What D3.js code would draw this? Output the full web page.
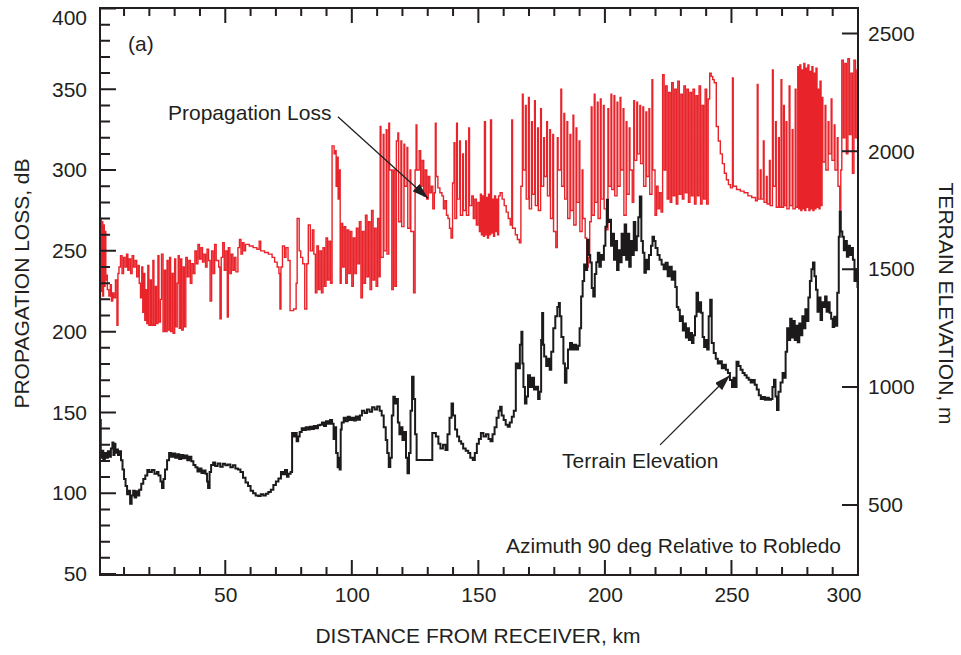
<!DOCTYPE html>
<html>
<head>
<meta charset="utf-8">
<script src="https://cdn.jsdelivr.net/npm/d3@7"></script>
<style>
	body { margin: 0; background: #fff; }
	text { font-family: "Liberation Sans", Arial, Helvetica, sans-serif; fill: #231f20; }
</style>
</head>
<body>
<div id="chart-container"></div>
<script>
// tick values
const distTicks = [50, 100, 150, 200, 250, 300];
const distMinor = [10, 20, 30, 40, 60, 70, 80, 90, 110, 120, 130, 140, 160, 170, 180, 190, 210, 220, 230, 240, 260, 270, 280, 290];
const lossTicks = [50, 100, 150, 200, 250, 300, 350, 400];
const lossMinor = [60, 70, 80, 90, 110, 120, 130, 140, 160, 170, 180, 190, 210, 220, 230, 240, 260, 270, 280, 290, 310, 320, 330, 340, 360, 370, 380, 390];
const elevTicks = [500, 1000, 1500, 2000, 2500];

// propagation loss [km, dB]
const lossData = [
	[0.5,172],[0.7,270],[1.0,225],[1.3,268],[1.6,222],[1.9,266],[2.2,228],[2.5,262],[2.8,232],[3.1,235],
	[3.4,226],[4.0,222],[4.6,229],[5.0,219],[5.5,224],[6.0,221],[6.6,232],[7.2,204],[7.6,236],
	[8.0,240],[8.6,247],[9.2,236],[9.8,246],[10.4,240],[11.0,248],[11.5,238],[12.0,245],[12.6,236],[13.2,247],[13.8,240],[14.4,244],[15.0,234],[15.6,241],
	[16.0,230],[16.5,221],[17.0,240],[17.4,212],[17.8,236],[18.2,207],[18.6,226],[19.0,205],[19.4,241],
	[19.8,204],[20.4,232],[20.8,204],[21.4,244],[21.8,204],[22.4,228],[22.8,205],[23.4,247],[23.8,206],[24.4,220],
	[24.8,248],[25.4,200],[26.0,238],[26.4,200],[27.0,244],[27.4,201],[28.0,246],[28.4,200],[29.0,236],[29.4,199],[30.0,245],[30.4,203],[31.0,230],
	[31.4,247],[31.8,202],[32.4,245],[32.8,201],[33.4,240],[33.8,203],
	[34.4,246],[35.0,234],[35.6,244],[36.2,230],[36.8,242],[37.4,236],
	[38.0,250],[38.6,242],[39.2,254],[39.8,245],[40.4,252],[41.0,243],[41.6,248],[42.2,240],[42.8,251],[43.4,244],
	[44.0,219],[44.6,250],[45.2,236],[45.8,254],[46.4,244],[47.4,240],[47.9,208],[48.4,246],
	[49.0,255],[49.6,238],[50.2,250],[50.8,209],[51.2,252],[51.8,236],[52.4,248],[53.0,238],[53.6,246],[54.2,237],
	[55.0,252],[55.6,257],[56.2,248],[56.8,255],[57.4,250],
	[58.0,254],[59.5,253],[61.0,252],[62.5,251],[63.4,256],[64.0,250],[65.5,249],[67.0,248],[68.5,246],
	[69.5,243],[70.5,240],[71.2,236],[71.6,214],[72.0,240],[72.6,253],[73.4,246],[74.0,252],[74.8,244],
	[75.6,213],[77.0,214],[78.0,230],[78.4,270],[79.2,250],[79.8,246],[80.6,242],[81.4,214],[82.2,242],
	[82.8,266],[83.6,250],[84.4,263],[85.0,248],
	[85.6,224],[86.2,253],[86.8,226],[87.4,250],[88.0,224],[88.6,252],[89.2,228],
	[89.8,258],[90.4,232],[91.0,256],[91.6,230],
	[92.2,315],[93.0,310],[93.4,312],[93.8,290],[94.2,308],[94.6,282],[95.0,300],[95.4,230],
	[95.8,267],[96.4,240],[97.0,265],[97.6,230],[98.2,263],[98.8,236],[99.4,262],[100.0,228],[100.6,258],[101.2,236],[101.8,264],
	[102.4,242],[103.0,268],[103.6,221],[104.2,262],
	[104.8,230],[105.4,272],[106.0,234],[106.6,268],[107.2,226],[107.8,275],[108.4,232],[109.0,264],[109.6,228],[110.2,270],[110.8,234],
	[111.2,327],[111.5,246],[112.4,322],[112.7,250],[113.6,325],[113.9,248],
	[114.6,329],[114.9,300],[115.8,226],[116.4,300],[117.0,228],[117.6,318],
	[118.2,323],[118.5,268],[119.4,318],[119.7,265],
	[120.6,316],[120.9,290],[121.8,314],[122.1,264],[123.0,300],[123.3,262],
	[124.4,224],[125.0,300],[125.4,328],[125.7,300],
	[126.6,312],[127.2,290],[127.8,306],[128.4,284],[129.0,300],[129.6,282],[130.2,296],[130.8,286],
	[131.4,290],[132.0,276],[132.6,286],[133.0,329],[133.3,296],
	[134.0,289],[134.8,286],[135.6,284],[136.2,276],[136.8,281],[137.4,272],[138.0,270],[138.6,264],[139.2,258],
	[139.8,292],[140.4,317],[140.7,270],[141.4,329],[141.7,282],[142.6,318],[142.9,272],[143.8,310],[144.1,275],[145.0,318],[145.3,272],[146.2,326],[146.5,278],
	[147.4,284],[148.0,270],[148.6,282],[149.2,266],[149.8,280],
	[150.4,262],[150.8,285],[151.2,260],[151.6,284],[152.0,259],[152.4,330],[152.8,260],[153.2,283],[153.6,258],[154.0,285],
	[154.4,260],[154.8,331],[155.2,261],[155.6,282],[156.0,259],[156.4,284],[156.8,262],[157.2,282],[157.6,260],[158.0,284],
	[158.6,286],[159.4,282],[160.2,278],[161.0,274],[161.8,270],[162.6,266],[163.2,331],[163.5,264],[164.6,260],[165.4,257],[166.2,255],
	[166.8,290],[167.4,347],[167.7,300],
	[168.6,340],[168.9,282],[169.8,345],[170.1,276],[171.0,330],[171.3,285],[172.2,343],[172.5,278],[173.4,326],[173.7,275],
	[174.6,338],[174.9,290],[175.8,320],[176.1,296],
	[177.0,330],[177.3,284],[178.2,325],[178.5,270],[179.4,322],[179.7,262],[180.6,252],[181.2,320],[181.5,300],
	[182.6,350],[182.9,290],
	[183.8,335],[184.1,282],[185.0,330],[185.3,270],[186.2,322],[186.5,275],[187.4,334],[187.7,266],[188.6,326],[188.9,280],[189.8,318],[190.1,262],[191.0,300],[191.3,270],
	[192.2,258],[192.8,240],[193.4,246],[194.0,268],
	[194.6,339],[194.9,272],[195.8,347],[196.1,280],[197.0,342],[197.3,270],[198.2,344],[198.5,282],[199.4,340],[199.7,276],[200.6,263],[201.2,338],[201.5,290],
	[202.4,347],[202.7,288],[203.6,346],[203.9,284],[204.8,342],[205.1,290],[206.0,345],[206.3,300],
	[207.2,338],[207.5,272],[208.4,330],[208.7,285],[209.6,326],[209.9,300],[210.8,280],
	[211.4,343],[211.7,306],[212.6,342],[212.9,310],[213.8,340],[214.1,304],
	[215.0,339],[215.3,290],[216.2,336],[216.5,296],[217.4,338],[217.7,285],
	[218.6,356],[218.9,300],[219.8,272],[220.4,290],[221.0,276],[221.6,286],[222.2,274],
	[222.8,359],[223.4,300],
	[224.0,352],[224.6,282],[225.2,348],[225.8,280],[226.4,354],[227.0,284],[227.6,350],[228.2,279],[228.8,355],[229.4,285],
	[230.0,347],[230.6,282],[231.2,352],[231.8,286],[232.4,350],[233.0,280],[233.6,348],[234.2,284],
	[234.8,350],[235.4,279],[236.0,346],[236.6,284],[237.2,352],[237.8,279],[238.4,340],[239.0,282],[239.6,350],[240.2,279],[240.8,344],
	[241.4,360],[242.0,358],[242.6,356],[243.2,354],
	[244.0,327],[244.8,318],[245.6,310],[246.4,304],[247.2,298],[248.0,294],[248.8,291],[249.6,289],
	[250.4,357],[250.7,290],
	[252.0,288],[253.5,287],[255.0,286],[256.5,284],[258.0,283],[259.5,281],[260.2,353],[260.5,282],
	[261.4,300],[261.7,282],[262.6,318],[262.9,280],[263.8,296],[264.1,279],[265.0,306],[265.3,278],
	[266.2,362],[266.5,290],[267.4,330],[267.7,277],[268.6,320],[268.9,277],
	[269.6,356],[269.9,277],[270.6,340],[270.9,278],[271.6,330],[271.9,276],[272.8,352],[273.1,278],[274.0,325],[274.3,276],[275.2,350],[275.5,277],
	[276.2,364],[276.6,276],[277.0,365],[277.4,275],[277.8,362],[278.2,276],[278.6,366],[279.0,275],[279.4,363],[279.8,277],
	[280.2,365],[280.6,275],[281.0,361],[281.4,276],[281.8,364],[282.2,275],[282.6,360],[283.0,276],[283.4,363],[283.8,277],
	[284.2,350],[284.6,276],[285.0,355],[285.4,278],
	[285.8,345],[286.1,305],[287.0,340],[287.3,300],[288.2,330],[288.5,310],[289.4,344],[289.7,306],[290.6,328],[290.9,300],[291.8,320],[292.1,290],
	[292.8,275],[293.2,300],
	[293.6,368],[294.2,320],[294.8,366],[295.4,310],[296.0,369],[296.6,322],[297.2,360],[297.8,298],[298.4,368],[299.0,320],[299.6,362],[300,330]
];

// terrain elevation [km, m]
const terrainData = [
	[0.5,860],[0.8,700],[1.2,730],[1.8,690],[2.4,720],[3.0,700],[3.6,728],[4.2,705],[4.8,740],[5.4,765],[5.8,712],[6.2,760],[6.6,722],[7.0,735],[7.6,712],[8.2,728],
	[8.8,690],[9.4,650],[10.0,610],[10.6,580],[11.2,545],[11.8,560],[12.4,505],
	[13.0,540],[13.6,560],[14.2,532],[14.8,558],[15.4,540],[16.0,565],
	[16.8,590],[17.6,610],[18.4,625],[19.2,648],[20.0,640],[21.0,648],[22.0,632],[23.0,640],[23.6,625],
	[24.4,600],[25.0,572],[25.6,610],[26.2,650],[27.0,690],[27.8,720],
	[28.6,705],[29.4,718],[30.2,700],[31.0,715],[31.8,695],[32.6,712],[33.4,698],[34.2,710],[35.0,690],[35.8,705],[36.6,686],
	[37.4,670],[38.2,660],[39.0,642],[39.8,655],[40.6,636],[41.4,646],[42.2,632],
	[42.8,600],[43.2,572],[43.8,640],
	[44.4,670],[45.2,680],[46.0,665],[47.0,676],[48.0,662],[49.0,675],[50.0,668],[51.0,672],[52.0,660],[53.0,668],[54.0,655],[55.0,650],
	[56.0,640],[57.0,615],[58.0,595],[59.0,580],[60.0,560],[61.0,550],[62.0,540],
	[63.0,538],[64.0,545],[65.0,540],[66.0,548],[67.0,555],
	[68.0,565],[69.0,585],[70.0,600],[71.0,612],[72.0,640],[72.8,630],[73.6,648],[74.4,620],[75.0,632],[75.8,640],
	[76.4,805],[77.0,790],[77.6,805],[78.2,770],[78.8,790],
	[79.4,810],[80.2,825],[81.0,818],[81.8,830],[82.6,820],[83.4,832],[84.2,822],[85.0,835],[85.8,825],[86.6,838],
	[87.4,840],[88.2,850],[89.0,835],[89.8,855],[90.6,845],[91.4,860],
	[92.2,845],[92.8,780],[93.2,830],[93.8,720],[94.4,660],[94.8,700],[95.2,650],[95.6,820],
	[96.0,850],[96.8,870],[97.6,855],[98.4,874],[99.2,860],[100.0,870],[100.8,858],[101.6,875],[102.4,862],
	[103.2,880],[104.0,900],[105.0,890],[106.0,905],[107.0,895],[108.0,915],[109.0,905],[110.0,918],[111.0,900],
	[111.8,880],[112.6,830],[113.4,776],[114.0,720],[114.6,661],[115.2,700],
	[115.8,880],[116.4,959],[117.0,930],[117.6,950],
	[118.2,850],[118.8,800],[119.4,830],[120.0,776],[120.6,810],
	[121.4,700],[122.0,635],[122.6,720],[123.2,900],[123.8,1044],[124.4,950],
	[125.0,800],[125.6,691],[131.8,805],[133.2,790],
	[134.2,760],[135.0,740],[136.0,755],[137.0,733],
	[137.8,800],[138.6,870],[139.4,930],[140.0,880],
	[140.8,820],[141.6,790],[142.4,770],[143.2,760],[144.0,740],[145.0,730],[146.0,720],[146.8,700],[147.8,691],
	[148.6,720],[149.4,760],[150.2,780],[151.0,805],[152.0,790],[153.0,800],[154.0,780],
	[154.8,770],[155.6,800],[156.4,830],[157.2,870],[158.0,900],[158.6,917],[159.2,880],[160.0,860],[160.8,840],[161.6,832],[162.4,850],[163.2,874],
	[164.0,900],[164.8,1100],[165.6,1080],[166.4,1180],[167.0,1235],[167.4,1100],
	[167.8,1000],[168.4,930],[169.0,960],[169.6,1050],[170.4,1000],[171.2,1040],[172.0,990],
	[172.8,1002],[173.6,950],[174.2,980],[174.8,1200],[175.2,1314],[175.6,1180],
	[176.0,1130],[176.8,1090],[177.6,1120],[178.2,1074],
	[178.8,1150],[179.6,1250],[180.4,1300],[181.2,1340],[181.8,1357],[182.2,1300],
	[182.8,1213],[183.6,1100],[184.2,1018],[184.8,1080],
	[185.4,1160],[186.2,1187],[187.0,1159],[187.8,1180],[188.6,1160],[189.4,1175],
	[190.0,1250],[190.6,1384],[191.2,1450],[191.8,1520],[192.4,1497],[193.0,1625],[193.6,1560],
	[194.2,1528],[194.8,1420],[195.4,1384],[196.0,1480],
	[196.6,1530],[197.2,1570],[197.8,1510],[198.4,1560],[199.0,1540],[199.6,1600],[200.2,1680],[200.8,1795],[201.2,1700],
	[201.8,1710],[202.4,1600],[203.0,1650],[203.6,1540],[204.2,1620],[204.8,1497],[205.4,1580],[206.0,1530],
	[206.6,1650],[207.2,1560],[207.8,1690],[208.4,1540],[209.0,1650],[209.6,1510],[210.2,1620],[210.8,1560],[211.4,1700],[212.0,1580],[212.6,1640],
	[213.2,1720],[213.8,1808],[214.4,1620],
	[215.0,1570],[215.6,1485],[216.2,1540],[216.8,1500],
	[217.4,1560],[218.2,1600],[218.8,1638],[219.4,1620],
	[220.0,1590],[220.8,1560],[221.6,1540],[222.4,1520],
	[223.2,1500],[224.0,1527],[224.8,1470],[225.6,1510],[226.4,1455],[227.2,1490],
	[227.8,1425],[228.4,1340],
	[229.0,1328],[229.6,1280],[230.2,1300],[230.8,1240],[231.4,1270],[232.0,1210],[232.6,1250],[233.2,1200],[233.8,1230],[234.4,1187],[235.0,1220],
	[235.6,1300],[236.2,1400],[236.8,1320],[237.4,1360],[238.0,1315],
	[238.6,1213],[239.2,1170],[239.8,1200],[240.4,1159],
	[241.0,1300],[241.6,1370],[242.2,1187],
	[243.0,1145],[243.8,1120],[244.6,1100],[245.4,1110],[246.2,1080],[247.0,1095],[247.8,1074],
	[248.6,1060],[249.4,1030],[250.2,1000],[250.8,1040],[251.4,1000],[252.0,1107],
	[252.8,1090],[253.6,1074],[254.4,1060],[255.2,1050],[256.0,1040],[256.8,1031],
	[257.6,1020],[258.4,1030],[259.2,1010],[260.0,990],
	[260.8,965],[261.6,950],[262.4,958],[263.2,946],[264.0,955],[264.8,946],[265.6,950],
	[266.2,1000],[266.8,1031],[267.4,960],[268.0,903],
	[268.6,980],[269.4,1020],[270.2,1060],[270.8,1040],
	[271.4,1150],[272.0,1250],[272.6,1200],[273.2,1290],[273.8,1210],[274.4,1280],[275.0,1200],[275.6,1260],[276.2,1190],
	[276.8,1270],[277.4,1220],[278.0,1300],[278.6,1250],[279.2,1330],[279.8,1280],
	[280.4,1380],[281.0,1450],[281.6,1500],[282.2,1528],[282.8,1470],
	[283.4,1413],[284.0,1320],[284.6,1380],[285.2,1285],[285.8,1360],
	[286.4,1340],[287.0,1384],[287.6,1320],[288.2,1360],[288.8,1315],
	[289.4,1290],[290.0,1255],[290.6,1298],[291.2,1260],
	[291.8,1400],[292.4,1638],[292.8,1744],[293.2,1660],
	[293.8,1638],[294.4,1580],[295.0,1620],[295.6,1553],[296.2,1600],[296.8,1560],[297.4,1590],
	[298.0,1540],[298.6,1450],[299.2,1500],[299.8,1425],[300,1460]
];

const W = 961;
const H = 655;
const margin = { top: 8, right: 103, bottom: 80, left: 100 };
const width = W - margin.left - margin.right;
const height = H - margin.top - margin.bottom;
const ink = "#231f20";
const fontSize = 21;

const svg = d3
	.select("#chart-container")
	.append("svg")
	.attr("width", W)
	.attr("height", H);

const g = svg.append("g").attr("transform", `translate(${margin.left},${margin.top})`);

const x = d3.scaleLinear().domain([0.5, 300]).range([0, width]);
const yLoss = d3.scaleLinear().domain([49.4, 400.3]).range([height, 0]);
const yElev = d3.scaleLinear().domain([203, 2608]).range([height, 0]);

const defs = svg.append("defs");

defs.append("clipPath")
	.attr("id", "plot-clip")
	.append("rect")
	.attr("width", width)
	.attr("height", height);

// arrow head
defs.append("marker")
	.attr("id", "arrow")
	.attr("viewBox", "0 0 16 10")
	.attr("refX", 16)
	.attr("refY", 5)
	.attr("markerWidth", 16)
	.attr("markerHeight", 10)
	.attr("markerUnits", "userSpaceOnUse")
	.attr("orient", "auto")
	.append("path")
	.attr("d", "M0,0 L16,5 L0,10 Z")
	.attr("fill", ink);

const plot = g.append("g").attr("clip-path", "url(#plot-clip)");

const lossLine = d3.line().curve(d3.curveStepAfter).x((d) => x(d[0])).y((d) => yLoss(d[1]));
const elevLine = d3.line().curve(d3.curveStepAfter).x((d) => x(d[0])).y((d) => yElev(d[1]));

plot.append("path")
	.datum(lossData)
	.attr("fill", "none")
	.attr("stroke", "#e8232a")
	.attr("stroke-width", 1.4)
	.attr("d", lossLine);

plot.append("path")
	.datum(terrainData)
	.attr("fill", "none")
	.attr("stroke", "#1c1a1b")
	.attr("stroke-width", 2)
	.attr("d", elevLine);

// tick labels from d3 axes (their own tick lines are dropped)
function styleAxis(sel) {
	sel.attr("font-size", fontSize)
		.attr("font-family", '"Liberation Sans", Arial, sans-serif');
	sel.select(".domain").remove();
	sel.selectAll(".tick line").remove();
	sel.selectAll(".tick text").attr("fill", ink);
}

const xAxis = g.append("g")
	.attr("transform", `translate(0,${height})`)
	.call(d3.axisBottom(x).tickValues(distTicks).tickSize(0).tickPadding(12))
	.call(styleAxis);

xAxis.selectAll(".tick text")
	.filter((d) => d === 300)
	.attr("text-anchor", "end")
	.attr("x", 3);

const yAxis = g.append("g")
	.call(d3.axisLeft(yLoss).tickValues(lossTicks).tickSize(0).tickPadding(13))
	.call(styleAxis);

yAxis.selectAll(".tick text")
	.filter((d) => d === 400)
	.attr("dy", "0.75em");

g.append("g")
	.attr("transform", `translate(${width},0)`)
	.call(d3.axisRight(yElev).tickValues(elevTicks).tickFormat(d3.format("d")).tickSize(0).tickPadding(10))
	.call(styleAxis);

// inward tick marks
const tickPath = [];
distMinor.forEach((d) => {
	tickPath.push(`M${x(d)},${height}V${height - 8}`, `M${x(d)},0V8`);
});
distTicks.forEach((d) => {
	tickPath.push(`M${x(d)},${height}V${height - 15}`, `M${x(d)},0V15`);
});
lossMinor.forEach((d) => tickPath.push(`M0,${yLoss(d)}H10`));
lossTicks.forEach((d) => tickPath.push(`M0,${yLoss(d)}H16`));
elevTicks.forEach((d) => tickPath.push(`M${width},${yElev(d)}H${width - 16}`));

g.append("path")
	.attr("d", tickPath.join(""))
	.attr("fill", "none")
	.attr("stroke", ink)
	.attr("stroke-width", 2);

// frame
g.append("rect")
	.attr("width", width)
	.attr("height", height)
	.attr("fill", "none")
	.attr("stroke", ink)
	.attr("stroke-width", 2);

// axis titles
g.append("text")
	.attr("x", 378)
	.attr("y", height + 68)
	.attr("text-anchor", "middle")
	.style("font-size", fontSize + "px")
	.text("DISTANCE FROM RECEIVER, km");

g.append("text")
	.attr("transform", `translate(-71,${height / 2 - 8}) rotate(-90)`)
	.attr("text-anchor", "middle")
	.style("font-size", fontSize + "px")
	.text("PROPAGATION LOSS, dB");

g.append("text")
	.attr("transform", `translate(${width + 81},${height / 2 + 12}) rotate(90)`)
	.attr("text-anchor", "middle")
	.style("font-size", fontSize + "px")
	.text("TERRAIN ELEVATION, m");

// annotations
g.append("text")
	.attr("x", 28)
	.attr("y", 43)
	.style("font-size", fontSize + "px")
	.text("(a)");

g.append("text")
	.attr("x", 68)
	.attr("y", 112)
	.style("font-size", fontSize + "px")
	.text("Propagation Loss");

g.append("line")
	.attr("x1", x(94.5))
	.attr("y1", yLoss(333))
	.attr("x2", x(130.1))
	.attr("y2", yLoss(282.5))
	.attr("stroke", ink)
	.attr("stroke-width", 1.3)
	.attr("marker-end", "url(#arrow)");

g.append("text")
	.attr("x", 462)
	.attr("y", 460)
	.style("font-size", fontSize + "px")
	.text("Terrain Elevation");

g.append("line")
	.attr("x1", x(221.8))
	.attr("y1", yElev(755))
	.attr("x2", x(249.4))
	.attr("y2", yElev(1050))
	.attr("stroke", ink)
	.attr("stroke-width", 1.3)
	.attr("marker-end", "url(#arrow)");

g.append("text")
	.attr("x", 741)
	.attr("y", 545)
	.attr("text-anchor", "end")
	.style("font-size", fontSize + "px")
	.text("Azimuth 90 deg Relative to Robledo");
</script>
</body>
</html>
